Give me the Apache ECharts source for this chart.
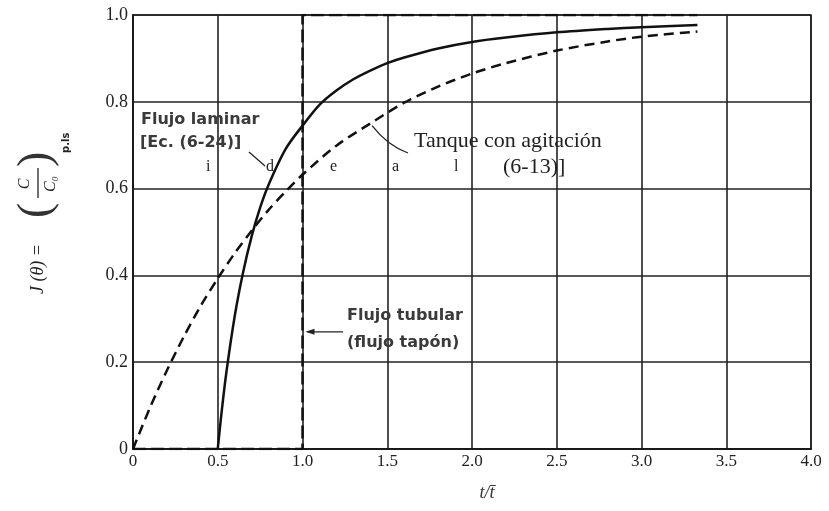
<!DOCTYPE html>
<html>
<head>
<meta charset="utf-8">
<script src="https://cdn.jsdelivr.net/npm/echarts@6/dist/echarts.min.js"></script>
<style>
  html, body { margin: 0; padding: 0; background: #fff; }
  #chart { width: 829px; height: 511px; }
</style>
</head>
<body>
<div id="chart"></div>
<script>
// Cumulative residence-time distribution F(θ) for three ideal reactor models.

// Laminar flow, Ec. (6-24)
const laminarTheta = [0.5, 0.52, 0.55, 0.6, 0.65, 0.7, 0.75, 0.8, 0.9, 1.0, 1.1, 1.2, 1.3, 1.4, 1.5, 1.6, 1.8, 2.0, 2.2, 2.5, 2.8, 3.0, 3.33];
const laminarF     = [0, 0.075, 0.174, 0.306, 0.408, 0.490, 0.556, 0.609, 0.691, 0.745, 0.793, 0.826, 0.852, 0.872, 0.889, 0.902, 0.923, 0.938, 0.948, 0.960, 0.968, 0.972, 0.977];

// Stirred tank, Ec. (6-13)
const tankTheta = [0, 0.1, 0.2, 0.3, 0.4, 0.5, 0.6, 0.7, 0.8, 0.9, 1.0, 1.2, 1.4, 1.6, 1.8, 2.0, 2.2, 2.5, 2.8, 3.0, 3.33];
const tankF     = [0, 0.095, 0.181, 0.259, 0.330, 0.393, 0.451, 0.503, 0.551, 0.593, 0.632, 0.699, 0.750, 0.798, 0.835, 0.865, 0.889, 0.918, 0.939, 0.950, 0.962];

// Plug flow (step at θ = 1)
const plugTheta = [0, 1.0, 1.0, 3.33];
const plugF     = [0, 0, 1.0, 1.0];

// Axis ticks
const xTicks = [0, 0.5, 1.0, 1.5, 2.0, 2.5, 3.0, 3.5, 4.0];
const yTicks = [0, 0.2, 0.4, 0.6, 0.8, 1.0];

const pairs = (xs, ys) => xs.map((x, i) => [x, ys[i]]);
const fmt = v => (v === 0 ? '0' : v.toFixed(1));

const ink = '#1a1a1a';
const serif = '"Liberation Serif", "DejaVu Serif", serif';
const sans = '"DejaVu Sans", "Liberation Sans", sans-serif';

const chart = echarts.init(document.getElementById('chart'), null, { renderer: 'canvas' });

chart.setOption({
  backgroundColor: '#ffffff',
  animation: false,
  grid: {
    left: 133, right: 18, top: 15, bottom: 62,
    show: true, borderColor: ink, borderWidth: 1.5, backgroundColor: 'transparent'
  },
  xAxis: {
    type: 'value',
    min: xTicks[0], max: xTicks[xTicks.length - 1], interval: 0.5,
    axisLine: { show: true, lineStyle: { color: ink, width: 2 } },
    axisTick: { show: false },
    axisLabel: { color: '#222', fontFamily: serif, fontSize: 17, margin: 4, formatter: fmt },
    splitLine: { show: true, lineStyle: { color: '#222', width: 1.6 } }
  },
  yAxis: {
    type: 'value',
    min: yTicks[0], max: yTicks[yTicks.length - 1], interval: 0.2,
    axisLine: { show: true, lineStyle: { color: ink, width: 2 } },
    axisTick: { show: false },
    axisLabel: { color: '#222', fontFamily: serif, fontSize: 18, margin: 5, formatter: fmt },
    splitLine: { show: true, lineStyle: { color: '#222', width: 1.6 } }
  },
  series: [
    {
      name: 'Flujo laminar',
      type: 'line', smooth: 0.3, symbol: 'none',
      data: pairs(laminarTheta, laminarF),
      lineStyle: { color: '#111', width: 2.5, type: 'solid' },
      z: 5
    },
    {
      name: 'Tanque con agitación',
      type: 'line', smooth: 0.3, symbol: 'none',
      data: pairs(tankTheta, tankF),
      lineStyle: { color: '#111', width: 2.5, type: [10, 6] },
      z: 5
    },
    {
      name: 'Flujo tubular',
      type: 'line', symbol: 'none',
      data: pairs(plugTheta, plugF),
      lineStyle: { color: '#111', width: 2.5, type: [13, 5] },
      z: 6
    }
  ]
});

// Annotations
const px = (x, y) => chart.convertToPixel({ gridIndex: 0 }, [x, y]);
const tankTip = px(1.41, 0.745);
const plugTip = px(1.0, 0.27);

const label = (x, y, text, family, size, color, weight) => ({
  type: 'text', x, y, z: 20,
  style: {
    text, fill: color || '#222', fontFamily: family, fontSize: size,
    fontWeight: weight || 'normal', textVerticalAlign: 'middle'
  }
});

const graphics = [
  // Laminar flow label and leader
  label(141, 120, 'Flujo laminar', sans, 16, '#3a3a3a', 'bold'),
  label(140, 143, '[Ec. (6-24)]', sans, 16, '#3a3a3a', 'bold'),
  { type: 'line', z: 20, shape: { x1: 249, y1: 152, x2: 265, y2: 166 },
    style: { stroke: '#222', lineWidth: 1.3 } },

  // Scattered "ideal" letters
  label(206, 167, 'i', serif, 16),
  label(266, 167, 'd', serif, 16),
  label(330, 167, 'e', serif, 16),
  label(392, 167, 'a', serif, 16),
  label(454, 167, 'l', serif, 16),

  // Stirred tank label and curved leader
  label(414, 141, 'Tanque con agitación', serif, 22),
  label(503, 167, '(6-13)]', serif, 22),
  { type: 'bezierCurve', z: 20,
    shape: { x1: 408, y1: 153, cpx1: 388, cpy1: 146, x2: tankTip[0], y2: tankTip[1] },
    style: { stroke: '#222', lineWidth: 1.3, fill: null } },

  // Plug flow label and arrow
  label(347, 316, 'Flujo tubular', sans, 16, '#3a3a3a', 'bold'),
  label(347, 343, '(flujo tapón)', sans, 16, '#3a3a3a', 'bold'),
  { type: 'line', z: 20, shape: { x1: 343, y1: plugTip[1], x2: plugTip[0] + 5, y2: plugTip[1] },
    style: { stroke: '#222', lineWidth: 1.3 } },
  { type: 'polygon', z: 20,
    shape: { points: [[plugTip[0] + 3, plugTip[1]], [plugTip[0] + 12, plugTip[1] - 3], [plugTip[0] + 12, plugTip[1] + 3]] },
    style: { fill: '#222' } },

  // x-axis title
  { type: 'text', z: 20, x: 487, y: 493,
    style: { text: 't/t\u0304', fontStyle: 'italic', fontFamily: serif, fontSize: 18, fill: '#333',
             textAlign: 'center', textVerticalAlign: 'middle' } },

  // y-axis title, written along the rotated baseline
  {
    type: 'group', x: 38, y: 294, rotation: Math.PI / 2, z: 20,
    children: [
      { type: 'text', x: 0, y: 0,
        style: { text: 'J (θ) =', fontStyle: 'italic', fontFamily: serif, fontSize: 18, fill: '#222',
                 textAlign: 'left', textVerticalAlign: 'middle' } },
      { type: 'text', x: 76, y: -1,
        style: { text: '(', fontFamily: serif, fontSize: 46, fill: '#333',
                 textAlign: 'left', textVerticalAlign: 'middle' } },
      { type: 'text', x: 110, y: -13,
        style: { text: 'C', fontStyle: 'italic', fontFamily: serif, fontSize: 16, fill: '#222',
                 textAlign: 'center', textVerticalAlign: 'middle' } },
      { type: 'line', shape: { x1: 96, y1: 0, x2: 126, y2: 0 },
        style: { stroke: '#222', lineWidth: 1.3 } },
      { type: 'text', x: 110, y: 13,
        style: { text: 'C\u2080', fontStyle: 'italic', fontFamily: serif, fontSize: 16, fill: '#222',
                 textAlign: 'center', textVerticalAlign: 'middle' } },
      { type: 'text', x: 127, y: -1,
        style: { text: ')', fontFamily: serif, fontSize: 46, fill: '#333',
                 textAlign: 'left', textVerticalAlign: 'middle' } },
      { type: 'text', x: 141, y: 28,
        style: { text: 'p.ls', fontWeight: 'bold', fontFamily: sans, fontSize: 10, fill: '#222',
                 textAlign: 'left', textVerticalAlign: 'middle' } }
    ]
  }
];

chart.setOption({ graphic: graphics });
</script>
</body>
</html>
